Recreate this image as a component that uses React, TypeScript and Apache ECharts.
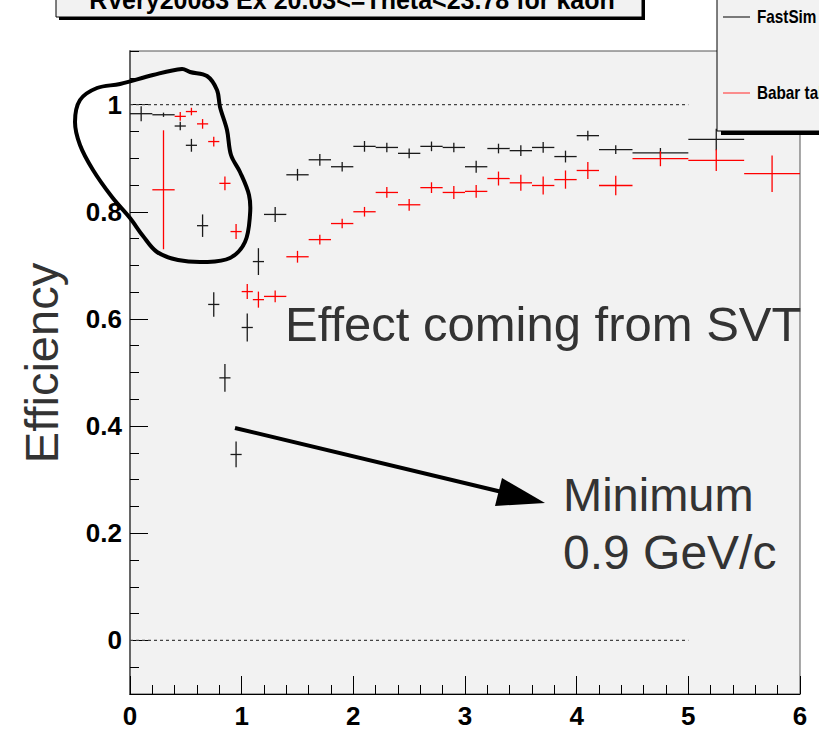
import React, { useEffect, useRef } from "react";
import * as echarts from "echarts";

// Bin edges (momentum, GeV/c)
const binLow = [0, 0.2, 0.4, 0.5, 0.6, 0.7, 0.8, 0.9, 1.0, 1.1, 1.2, 1.4, 1.6, 1.8, 2.0, 2.2, 2.4, 2.6, 2.8, 3.0, 3.2, 3.4, 3.6, 3.8, 4.0, 4.2, 4.5, 5.0, 5.5];
const binHigh = [0.2, 0.4, 0.5, 0.6, 0.7, 0.8, 0.9, 1.0, 1.1, 1.2, 1.4, 1.6, 1.8, 2.0, 2.2, 2.4, 2.6, 2.8, 3.0, 3.2, 3.4, 3.6, 3.8, 4.0, 4.2, 4.5, 5.0, 5.5, 6.0];

// FastSim efficiency and errors
const fastSimEff = [0.983, 0.981, 0.96, 0.924, 0.774, 0.627, 0.49, 0.347, 0.584, 0.707, 0.795, 0.869, 0.897, 0.884, 0.922, 0.92, 0.909, 0.922, 0.92, 0.884, 0.918, 0.914, 0.92, 0.903, 0.942, 0.916, 0.91, 0.935, null];
const fastSimErr = [0.014, 0.004, 0.008, 0.012, 0.021, 0.023, 0.026, 0.024, 0.026, 0.025, 0.014, 0.011, 0.011, 0.009, 0.01, 0.009, 0.009, 0.009, 0.009, 0.011, 0.009, 0.01, 0.01, 0.011, 0.009, 0.008, 0.009, 0.02, null];

// Babar tables efficiency and errors
const babarEff = [null, 0.841, 0.978, 0.987, 0.964, 0.931, 0.853, 0.763, 0.651, 0.636, 0.642, 0.716, 0.748, 0.778, 0.8, 0.836, 0.813, 0.845, 0.836, 0.838, 0.862, 0.854, 0.849, 0.86, 0.877, 0.849, 0.899, 0.896, 0.871];
const babarErr = [null, 0.111, 0.008, 0.007, 0.009, 0.009, 0.013, 0.014, 0.014, 0.015, 0.011, 0.011, 0.009, 0.009, 0.009, 0.01, 0.011, 0.01, 0.012, 0.012, 0.013, 0.015, 0.017, 0.017, 0.016, 0.018, 0.014, 0.02, 0.034];

const yMajorTicks = [0, 0.2, 0.4, 0.6, 0.8, 1.0];
const yMinorTicks = [-0.1, -0.05, 0.05, 0.1, 0.15, 0.25, 0.3, 0.35, 0.45, 0.5, 0.55, 0.65, 0.7, 0.75, 0.85, 0.9, 0.95, 1.05, 1.1];

const titleText = "RVery20083 Ex 20.03<=Theta<23.78 for kaon";
const legendNames = ["FastSim", "Babar tables"];
const yTitle = "Efficiency";
const note1 = "Effect coming from SVT";
const note2a = "Minimum";
const note2b = "0.9 GeV/c";

const BOLD = '"Liberation Sans", Arial, Helvetica, sans-serif';
const SANS = '"Liberation Sans", Arial, Helvetica, sans-serif';

function buildData(eff: (number | null)[], err: (number | null)[]) {
  const out: number[][] = [];
  for (let i = 0; i < binLow.length; i++) {
    if (eff[i] == null) continue;
    out.push([binLow[i], binHigh[i], eff[i] as number, (err[i] ?? 0) as number]);
  }
  return out;
}

function crossRenderer(color: string) {
  return (params: any, api: any) => {
    const xl = api.value(0);
    const xh = api.value(1);
    const y = api.value(2);
    const e = api.value(3);
    const xc = (xl + xh) / 2;
    const p1 = api.coord([xl, y]);
    const p2 = api.coord([xh, y]);
    const p3 = api.coord([xc, y - e]);
    const p4 = api.coord([xc, y + e]);
    return {
      type: "group",
      children: [
        { type: "line", shape: { x1: p1[0], y1: p1[1], x2: p2[0], y2: p2[1] }, style: { stroke: color, lineWidth: 1.3 } },
        { type: "line", shape: { x1: p3[0], y1: p3[1], x2: p4[0], y2: p4[1] }, style: { stroke: color, lineWidth: 1.3 } },
      ],
    };
  };
}

const loopPts = [
  [120, 84], [153, 75], [182, 69], [190, 72], [207, 76], [217, 90], [220, 107], [227, 130], [231, 155],
  [240, 172], [249, 195], [250, 215], [245, 242], [230, 258], [205, 262], [178, 260], [157, 252],
  [143, 236], [130, 218], [112, 197], [93, 170], [80, 145], [75, 122], [80, 100], [97, 88],
];

export default function App() {
  const ref = useRef<HTMLDivElement>(null);
  useEffect(() => {
    if (!ref.current) return;
    const chart = echarts.init(ref.current, null, { renderer: "svg" });
    const labelStyle = { fontFamily: BOLD, fontWeight: "bold" as const, fontSize: 26, color: "#000" };
    chart.setOption({
      animation: false,
      backgroundColor: "#ffffff",
      grid: {
        left: 130, right: 19, top: 51, bottom: 38, show: true,
        backgroundColor: "#f2f2f2", borderColor: "#555", borderWidth: 1,
      },
      xAxis: {
        type: "value", min: 0, max: 6, interval: 1,
        axisLine: { show: true, onZero: false, lineStyle: { color: "#000", width: 1.2 } },
        axisTick: { show: true, inside: true, length: 18, lineStyle: { color: "#000", width: 1 } },
        minorTick: { show: true, splitNumber: 5, length: 9, lineStyle: { color: "#000", width: 1 } },
        splitLine: { show: false },
        minorSplitLine: { show: false },
        axisLabel: { ...labelStyle, margin: 9 },
      },
      yAxis: [
        {
          type: "value", min: -0.1, max: 1.1,
          axisLine: { show: true, onZero: false, lineStyle: { color: "#666", width: 2 } },
          axisTick: { show: true, inside: true, length: 18, customValues: yMajorTicks, lineStyle: { color: "#000", width: 1 } },
          axisLabel: {
            ...labelStyle, margin: 8, customValues: yMajorTicks,
            formatter: (v: number) => String(Math.round(v * 10) / 10),
          },
          splitLine: { show: false },
        },
        {
          type: "value", min: -0.1, max: 1.1, position: "left",
          axisLine: { show: false },
          axisTick: { show: true, inside: true, length: 9, customValues: yMinorTicks, lineStyle: { color: "#000", width: 1 } },
          axisLabel: { show: false },
          splitLine: { show: false },
        },
      ],
      series: [
        {
          type: "line", data: [[0, 1], [5, 1]], symbol: "none", silent: true,
          lineStyle: { color: "#444", width: 1.3, type: [3, 3] },
        },
        {
          type: "line", data: [[0, 0], [5, 0]], symbol: "none", silent: true,
          lineStyle: { color: "#444", width: 1.3, type: [3, 3] },
        },
        {
          type: "custom", name: legendNames[0], renderItem: crossRenderer("#1a1a1a"),
          data: buildData(fastSimEff, fastSimErr), encode: { x: [0, 1], y: 2 },
        },
        {
          type: "custom", name: legendNames[1], renderItem: crossRenderer("#ff0000"),
          data: buildData(babarEff, babarErr), encode: { x: [0, 1], y: 2 },
        },
      ],
      graphic: [
        // title box
        { type: "rect", z: 100, shape: { x: 59, y: -10, width: 586, height: 30 }, style: { fill: "#000" } },
        { type: "rect", z: 101, shape: { x: 56, y: -10, width: 586, height: 27 }, style: { fill: "#f2f2f2", stroke: "#000", lineWidth: 1 } },
        {
          type: "text", z: 102, x: 352, y: 0,
          style: { text: titleText, fontFamily: BOLD, fontWeight: "bold", fontSize: 25, fill: "#000", align: "center", verticalAlign: "middle" },
        },
        // legend box
        { type: "rect", z: 100, shape: { x: 721, y: -10, width: 120, height: 145 }, style: { fill: "#000" } },
        { type: "rect", z: 101, shape: { x: 717, y: -10, width: 120, height: 141 }, style: { fill: "#f2f2f2", stroke: "#000", lineWidth: 1 } },
        { type: "line", z: 102, shape: { x1: 723, y1: 17, x2: 750, y2: 17 }, style: { stroke: "#000", lineWidth: 1 } },
        {
          type: "text", z: 102, x: 757, y: 17, scaleX: 0.85,
          style: { text: legendNames[0], fontFamily: BOLD, fontWeight: "bold", fontSize: 18, fill: "#000", align: "left", verticalAlign: "middle" },
        },
        { type: "line", z: 102, shape: { x1: 723, y1: 93, x2: 750, y2: 93 }, style: { stroke: "#ff5555", lineWidth: 1.3 } },
        {
          type: "text", z: 102, x: 757, y: 93, scaleX: 0.85,
          style: { text: legendNames[1], fontFamily: BOLD, fontWeight: "bold", fontSize: 18, fill: "#000", align: "left", verticalAlign: "middle" },
        },
        // y title
        {
          type: "text", z: 50, x: 41, y: 363, rotation: Math.PI / 2,
          style: { text: yTitle, fontFamily: SANS, fontSize: 47, fill: "#333", align: "center", verticalAlign: "middle" },
        },
        // annotations
        {
          type: "text", z: 50, x: 285, y: 324,
          style: { text: note1, fontFamily: SANS, fontSize: 49, fill: "#333", align: "left", verticalAlign: "middle" },
        },
        {
          type: "text", z: 50, x: 563, y: 494,
          style: { text: note2a, fontFamily: SANS, fontSize: 47, fill: "#333", align: "left", verticalAlign: "middle" },
        },
        {
          type: "text", z: 50, x: 563, y: 552,
          style: { text: note2b, fontFamily: SANS, fontSize: 48, fill: "#333", align: "left", verticalAlign: "middle" },
        },
        // arrow
        { type: "line", z: 50, shape: { x1: 235, y1: 428, x2: 502, y2: 492 }, style: { stroke: "#000", lineWidth: 4 } },
        { type: "polygon", z: 50, shape: { points: [[545, 503], [495, 506], [502, 478]] }, style: { fill: "#000" } },
        // hand-drawn loop
        {
          type: "polygon", z: 50, shape: { points: loopPts, smooth: 0.35 },
          style: { fill: "none", stroke: "#000", lineWidth: 4 },
        },
      ],
    });
    return () => chart.dispose();
  }, []);
  return <div ref={ref} style={{ position: "fixed", left: 0, top: 0, width: 819, height: 732 }} />;
}
